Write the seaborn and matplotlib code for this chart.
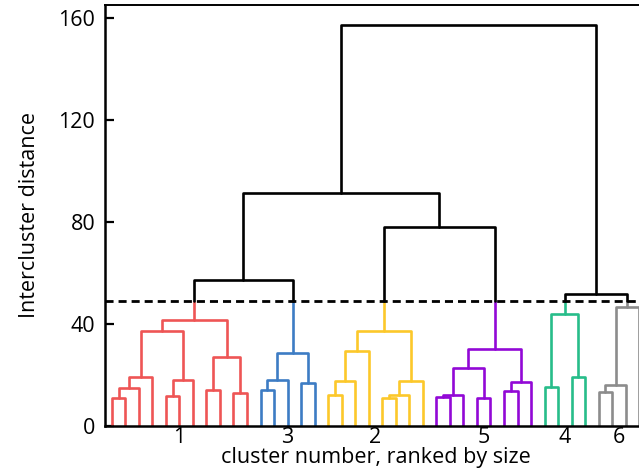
import numpy as np
import pandas as pd
import matplotlib
matplotlib.use("Agg")
import matplotlib.pyplot as plt
import seaborn as sns

# ---------------- data ----------------
cluster_labels = ["1", "3", "2", "5", "4", "6"]      # clusters in display order
cluster_sizes = [11, 5, 8, 8, 4, 4]                   # leaves per cluster
cluster_colors = ["#ee5555", "#3d7cc4", "#fcc82a", "#9208d6", "#27bd8a", "#8c8c8c"]

# merges (scipy-like): ids < 40 are leaves in display order, merge k gets id 40 + k
merge_left = [0, 40, 41, 4, 43, 42, 7, 9, 46, 45,
              11, 50, 14, 51,
              16, 54, 55, 20, 57, 58, 56,
              24, 61, 27, 62, 29, 65, 64,
              32, 34, 68,
              36, 71, 72,
              49, 60, 74, 70, 76]
merge_right = [1, 2, 3, 5, 6, 44, 8, 10, 47, 48,
               12, 13, 15, 52,
               17, 18, 19, 21, 22, 23, 59,
               25, 26, 28, 63, 30, 31, 66,
               33, 35, 69,
               37, 38, 39,
               53, 67, 75, 73, 77]
merge_height = [10.9, 14.8, 19.4, 11.8, 18.1, 37.4, 14.1, 13.1, 27.2, 41.6,
                14.1, 18.1, 16.8, 28.5,
                12.2, 17.8, 29.6, 10.9, 12.2, 17.8, 37.4,
                11.3, 12.2, 10.9, 22.6, 13.7, 17.1, 30.2,
                15.4, 19.1, 43.8,
                13.2, 16.1, 46.8,
                57.3, 78.2, 91.3, 51.8, 157.2]
threshold = 49.2
y_ticks = [0, 40, 80, 120, 160]

# ---------------- build link segments ----------------
leaf_cluster = [lab for lab, n in zip(cluster_labels, cluster_sizes) for _ in range(n)]
n_leaves = len(leaf_cluster)
node_x = list(5.0 + 10.0 * np.arange(n_leaves))
node_h = [0.0] * n_leaves
node_c = list(leaf_cluster)
for l, r, h in zip(merge_left, merge_right, merge_height):
    node_x.append((node_x[l] + node_x[r]) / 2)
    node_h.append(h)
    node_c.append(node_c[l] if (h < threshold and node_c[l] == node_c[r]) else "above")

rows = []
seg = 0
def add(points, key):
    global seg
    for px, py in points:
        rows.append({"x": px, "y": py, "seg": seg, "key": key})
    seg += 1

for k, (l, r, h) in enumerate(zip(merge_left, merge_right, merge_height)):
    nid = n_leaves + k
    xl, xr, hl, hr = node_x[l], node_x[r], node_h[l], node_h[r]
    if node_c[nid] != "above":
        add([(xl, hl), (xl, h), (xr, h), (xr, hr)], node_c[nid])
    else:
        starts = []
        for c, xc, hc in ((l, xl, hl), (r, xr, hr)):
            if node_c[c] != "above":
                add([(xc, hc), (xc, threshold)], node_c[c])
                starts.append(threshold)
            else:
                starts.append(hc)
        add([(xl, starts[0]), (xl, h), (xr, h), (xr, starts[1])], "above")

df = pd.DataFrame(rows)
palette = dict(zip(cluster_labels, cluster_colors))
palette["above"] = "black"

# cluster centres for tick labels
bounds = np.cumsum([0] + cluster_sizes)
centres = [(node_x[a] + node_x[b - 1]) / 2 for a, b in zip(bounds[:-1], bounds[1:])]

# ---------------- plot ----------------
sns.set_style("ticks")
plt.rcParams["font.family"] = ["Open Sans", "DejaVu Sans"]
plt.rcParams["text.color"] = "black"
plt.rcParams["axes.labelcolor"] = "black"
plt.rcParams["xtick.color"] = "black"
plt.rcParams["ytick.color"] = "black"

fig = plt.figure(figsize=(6.39, 4.74), dpi=100)
ax = fig.add_axes([105 / 639, 48 / 474, (646 - 105) / 639, (426 - 5) / 474])

sns.lineplot(data=df, x="x", y="y", units="seg", estimator=None, hue="key",
             hue_order=cluster_labels + ["above"], palette=palette,
             sort=False, legend=False, lw=1.9, ax=ax)

ax.axhline(threshold, color="black", lw=2.0, ls=(0, (2.9, 1.8)))

ax.set_xlim(0, 10 * n_leaves)
ax.set_ylim(0, 165.2)
ax.set_yticks(y_ticks)
ax.set_xticks(centres)
ax.set_xticklabels(cluster_labels)
fs = 15.5
ax.tick_params(axis="y", direction="in", length=6.5, width=1.6, pad=7, labelsize=fs)
ax.tick_params(axis="x", length=0, pad=1, labelsize=fs)
for s in ax.spines.values():
    s.set_linewidth(1.8)
    s.set_color("black")
ax.spines["top"].set_linewidth(1.4)

ax.set_xlabel("cluster number, ranked by size", fontsize=fs, labelpad=-1)
ax.set_ylabel("Intercluster distance", fontsize=fs, labelpad=13)

fig.savefig("out.png", dpi=100)
